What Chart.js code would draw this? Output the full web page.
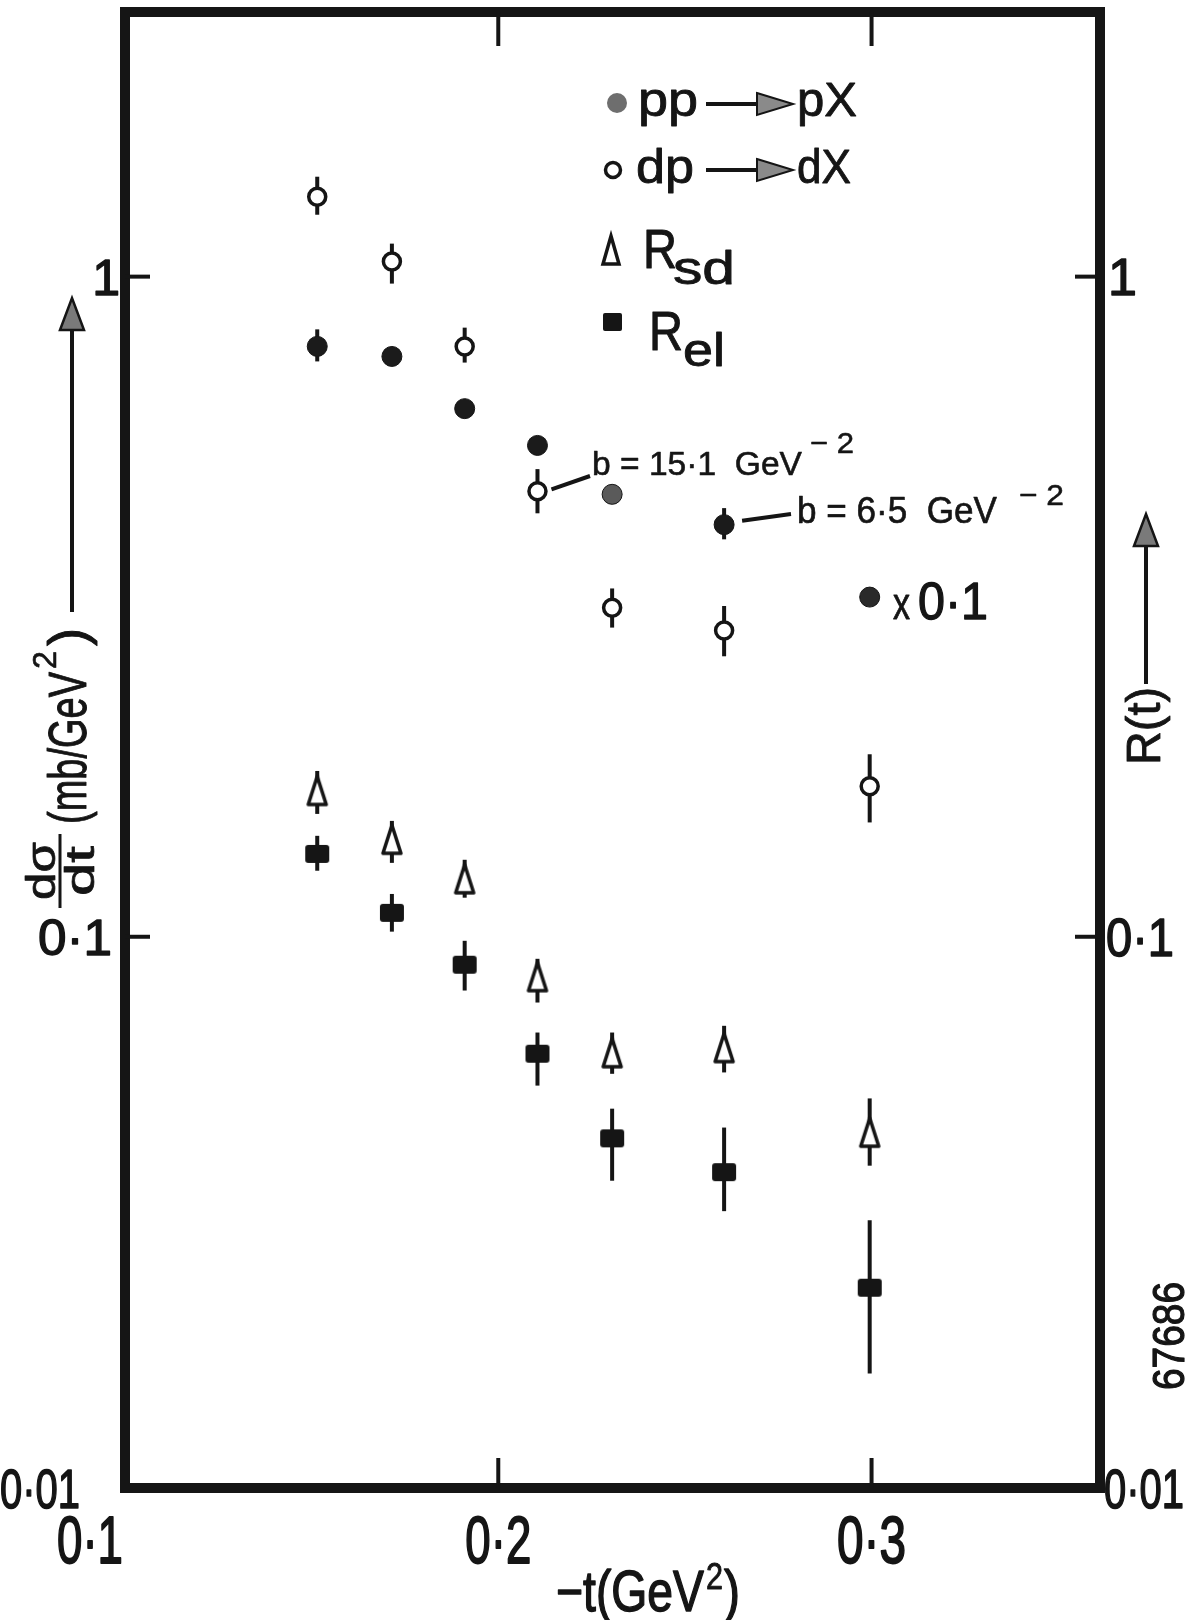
<!DOCTYPE html>
<html>
<head>
<meta charset="utf-8">
<script src="https://cdn.jsdelivr.net/npm/chart.js@4.4.1/dist/chart.umd.min.js"></script>
<style>
  html, body { margin: 0; padding: 0; background: #fff; }
  #wrap { width: 1202px; height: 1620px; position: relative; }
</style>
</head>
<body>
<div id="wrap"><canvas id="myChart"></canvas></div>
<script>
// -t (GeV^2) for every measured bin
const tValues = [0.1515, 0.1715, 0.191, 0.2105, 0.2305, 0.2605, 0.2995];

// pp -> pX  (last point shown x 0.1)
const ppValues = [0.784, 0.757, 0.631, 0.555, 0.468, 0.421, 0.327];
const ppLow = [0.744, null, null, null, null, 0.400, null];
const ppHigh = [0.832, null, null, null, null, 0.446, null];

// dp -> dX
const dpValues = [1.321, 1.054, 0.784, 0.473, 0.315, 0.291, 0.169];
const dpLow = [1.241, 0.976, 0.741, 0.438, 0.294, 0.266, 0.149];
const dpHigh = [1.417, 1.122, 0.837, 0.511, 0.337, 0.317, 0.189];

// R_sd
const rsdValues = [0.166, 0.140, 0.122, 0.0867, 0.0665, 0.0677, 0.0504];
const rsdLow = [0.1535, 0.1294, 0.1146, 0.0795, 0.062, 0.0623, 0.045];
const rsdHigh = [0.1783, 0.1498, 0.1308, 0.0926, 0.0716, 0.0733, 0.0569];

// R_el
const relValues = [0.1335, 0.1087, 0.0907, 0.0665, 0.0495, 0.044, 0.0294];
const relLow = [0.1259, 0.1018, 0.0829, 0.0595, 0.0427, 0.0384, 0.0218];
const relHigh = [0.1422, 0.1161, 0.0986, 0.0716, 0.0549, 0.0514, 0.0372];

// axes
const xMin = 0.1, xMax = 0.3612;
const xTicks = [0.1, 0.2, 0.3];
const xTickLabels = ["0·1", "0·2", "0·3"];
const yMin = 0.01462, yMax = 2.517; // frame edges as drawn in the figure
const yTicks = [yMin, 0.1, 1];
const yTickLabels = ["0·01", "0·1", "1"];

const INK = "#151515";
const FONT = "'Liberation Sans', 'DejaVu Sans', sans-serif";

function toPoints(vals) {
  return vals.map((v, i) => ({ x: tValues[i], y: v }));
}

// tall open triangle and flat square used as markers
function makeTriangle() {
  const c = document.createElement("canvas");
  c.width = 24; c.height = 36;
  const g = c.getContext("2d");
  g.lineWidth = 3.5; g.strokeStyle = INK; g.fillStyle = "#fff"; g.lineJoin = "round";
  g.beginPath(); g.moveTo(12, 3); g.lineTo(21, 31); g.lineTo(3, 31); g.closePath();
  g.fill(); g.stroke();
  return c;
}
function makeSquare() {
  const c = document.createElement("canvas");
  c.width = 26; c.height = 22;
  const g = c.getContext("2d");
  g.fillStyle = INK;
  g.beginPath(); g.roundRect(1, 2, 24, 18, 3); g.fill();
  return c;
}

// text squeezed to the narrow, pen-stroked lettering of the figure
function drawText(ctx, s, x, y, size, w, align, weight) {
  ctx.font = size + "px " + FONT;
  const m = ctx.measureText(s).width;
  const sx = w ? w / m : 1;
  const ww = m * sx;
  let x0 = x;
  if (align === "center") x0 = x - ww / 2;
  if (align === "right") x0 = x - ww;
  ctx.save();
  ctx.translate(x0, y);
  ctx.scale(sx, 1);
  ctx.fillText(s, 0, 0);
  ctx.lineWidth = size / (weight || 55);
  ctx.lineJoin = "round";
  ctx.strokeText(s, 0, 0);
  ctx.restore();
  return ww;
}

function arrowRight(ctx, x1, x2, y) {
  ctx.lineWidth = 4;
  ctx.beginPath(); ctx.moveTo(x1, y); ctx.lineTo(x2 - 30, y); ctx.stroke();
  ctx.fillStyle = "#8a8a8a"; ctx.lineWidth = 2;
  ctx.beginPath(); ctx.moveTo(x2 - 36, y - 11); ctx.lineTo(x2, y); ctx.lineTo(x2 - 36, y + 11); ctx.closePath();
  ctx.fill(); ctx.stroke();
  ctx.fillStyle = INK;
}

function arrowUp(ctx, x, yTail, yTip) {
  ctx.lineWidth = 4;
  ctx.beginPath(); ctx.moveTo(x, yTail); ctx.lineTo(x, yTip + 28); ctx.stroke();
  ctx.fillStyle = "#7a7a7a"; ctx.lineWidth = 2.5;
  ctx.beginPath(); ctx.moveTo(x - 12, yTip + 32); ctx.lineTo(x, yTip); ctx.lineTo(x + 12, yTip + 32); ctx.closePath();
  ctx.fill(); ctx.stroke();
  ctx.fillStyle = INK;
}

const errorBars = {
  id: "errorBars",
  beforeDatasetsDraw(chart) {
    const { ctx, scales: { x, y } } = chart;
    ctx.save();
    ctx.strokeStyle = INK;
    ctx.lineWidth = 4;
    chart.data.datasets.forEach((ds) => {
      ds.data.forEach((p, i) => {
        if (ds.errLow[i] == null) return;
        const px = x.getPixelForValue(p.x);
        ctx.beginPath();
        ctx.moveTo(px, y.getPixelForValue(ds.errLow[i]));
        ctx.lineTo(px, y.getPixelForValue(ds.errHigh[i]));
        ctx.stroke();
      });
    });
    ctx.restore();
  },
};

const decor = {
  id: "decor",
  afterDraw(chart) {
    const { ctx, chartArea: a, scales: { x, y, y2 } } = chart;
    ctx.save();
    ctx.strokeStyle = INK;
    ctx.fillStyle = INK;
    ctx.textBaseline = "alphabetic";

    // thick frame
    ctx.lineWidth = 10;
    ctx.strokeRect(a.left, a.top, a.right - a.left, a.bottom - a.top);

    // inward tick marks
    ctx.lineWidth = 4;
    [0.2, 0.3].forEach((v) => {
      const px = x.getPixelForValue(v);
      ctx.beginPath(); ctx.moveTo(px, a.bottom); ctx.lineTo(px, a.bottom - 30); ctx.stroke();
      ctx.beginPath(); ctx.moveTo(px, a.top); ctx.lineTo(px, a.top + 34); ctx.stroke();
    });
    [1, 0.1].forEach((v) => {
      const py = y.getPixelForValue(v);
      ctx.beginPath(); ctx.moveTo(a.left, py); ctx.lineTo(a.left + 25, py); ctx.stroke();
      ctx.beginPath(); ctx.moveTo(a.right, py); ctx.lineTo(a.right - 25, py); ctx.stroke();
    });

    // tick labels, placed like the hand lettering
    const xLab = [{ dx: -35, w: 66 }, { dx: 0, w: 66 }, { dx: 0, w: 69 }];
    x.ticks.forEach((tk, i) => {
      const s = tk.label || xTickLabels[i];
      drawText(ctx, s, x.getPixelForValue(tk.value) + xLab[i].dx, a.bottom + 75, 66, xLab[i].w, "center", 36);
    });
    const yLab = [{ r: 80, size: 56, w: 80 }, { r: 112, size: 50, w: 74 }, { r: 120, size: 50 }];
    y.ticks.forEach((tk, i) => {
      const s = tk.label || yTickLabels[i];
      const st = yLab[i];
      drawText(ctx, s, st.r, y.getPixelForValue(tk.value) + st.size * 0.36, st.size, st.w, "right", 36);
    });
    const y2Lab = [{ l: 1104, size: 56, w: 80 }, { l: 1106, size: 54, w: 68 }, { l: 1108, size: 52 }];
    y2.ticks.forEach((tk, i) => {
      const s = tk.label || yTickLabels[i];
      const st = y2Lab[i];
      drawText(ctx, s, st.l, y2.getPixelForValue(tk.value) + st.size * 0.36, st.size, st.w, "left", 36);
    });

    // x axis title
    let w = drawText(ctx, "−t(GeV", 556, 1611, 57, 148, "left", 40);
    drawText(ctx, "2", 556 + w + 2, 1589, 36, 17, "left", 40);
    drawText(ctx, ")", 556 + w + 20, 1611, 57, 16, "left", 40);

    // legend
    ctx.fillStyle = "#6e6e6e";
    ctx.beginPath(); ctx.arc(617, 103, 10, 0, Math.PI * 2); ctx.fill();
    ctx.fillStyle = INK;
    drawText(ctx, "pp", 638, 116, 48, 60);
    arrowRight(ctx, 706, 793, 104);
    drawText(ctx, "pX", 797, 116, 48, 60);

    ctx.lineWidth = 3.5;
    ctx.beginPath(); ctx.arc(613, 170, 7.5, 0, Math.PI * 2); ctx.stroke();
    drawText(ctx, "dp", 636, 183, 48, 58);
    arrowRight(ctx, 706, 793, 170);
    drawText(ctx, "dX", 797, 183, 48, 54);

    ctx.lineWidth = 3.5;
    ctx.beginPath(); ctx.moveTo(611, 236); ctx.lineTo(619, 264); ctx.lineTo(603, 264); ctx.closePath(); ctx.stroke();
    drawText(ctx, "R", 643, 268, 56, 34);
    drawText(ctx, "sd", 673, 284, 46, 62);

    ctx.beginPath(); ctx.roundRect(603, 313, 19, 18, 2); ctx.fill();
    drawText(ctx, "R", 649, 350, 56, 34);
    drawText(ctx, "el", 683, 366, 46, 42);

    // slope annotations
    const p4x = x.getPixelForValue(tValues[3]), p4y = y.getPixelForValue(dpValues[3]);
    ctx.lineWidth = 4;
    ctx.beginPath(); ctx.moveTo(p4x + 14, p4y - 2); ctx.lineTo(590, 476); ctx.stroke();
    drawText(ctx, "b = 15·1  GeV", 592, 475, 34, 210);
    drawText(ctx, "− 2", 810, 453, 30, 44);

    const p6x = x.getPixelForValue(tValues[5]), p6y = y.getPixelForValue(ppValues[5]);
    ctx.beginPath(); ctx.moveTo(p6x + 18, p6y - 4); ctx.lineTo(791, 514); ctx.stroke();
    drawText(ctx, "b = 6·5  GeV", 797, 523, 36, 200);
    drawText(ctx, "− 2", 1019, 505, 30, 45);

    drawText(ctx, "x", 893, 619, 44, 17);
    drawText(ctx, "0·1", 918, 619, 52, 70, "left", 40);

    // left axis title: d sigma / dt (mb/GeV^2) with arrow
    ctx.save();
    ctx.translate(60, 910);
    ctx.rotate(-Math.PI / 2);
    ctx.lineWidth = 3;
    ctx.beginPath(); ctx.moveTo(2, 0); ctx.lineTo(76, 0); ctx.stroke();
    drawText(ctx, "dσ", 10, -5, 40, 58);
    drawText(ctx, "dt", 14, 34, 40, 50);
    drawText(ctx, "(mb/GeV", 86, 26, 54, 152);
    drawText(ctx, "2", 241, -4, 34, 18);
    drawText(ctx, ")", 264, 26, 54, 18);
    ctx.restore();
    arrowUp(ctx, 72, 612, 298);

    // right axis title: R(t) with arrow
    ctx.save();
    ctx.translate(1160, 765);
    ctx.rotate(-Math.PI / 2);
    drawText(ctx, "R(t)", 0, 0, 48, 78);
    ctx.restore();
    arrowUp(ctx, 1146, 684, 514);

    // plate number
    ctx.save();
    ctx.translate(1184, 1390);
    ctx.rotate(-Math.PI / 2);
    drawText(ctx, "67686", 0, 0, 44, 108, "left", 36);
    ctx.restore();

    ctx.restore();
  },
};

function fixBox(size) {
  return (s) => {
    if (s.isHorizontal()) s.height = size; else s.width = size;
    s.paddingTop = 0; s.paddingBottom = 0; s.paddingLeft = 0; s.paddingRight = 0;
  };
}

document.addEventListener("DOMContentLoaded", function () {
  const tri = makeTriangle();
  const sq = makeSquare();
  const ctx = document.getElementById("myChart").getContext("2d");

  const hiddenLook = {
    grid: { display: false, drawTicks: false },
    border: { display: false },
  };

  new Chart(ctx, {
    type: "scatter",
    data: {
      datasets: [
        {
          label: "R_el",
          data: toPoints(relValues),
          errLow: relLow, errHigh: relHigh,
          pointStyle: sq,
        },
        {
          label: "R_sd",
          data: toPoints(rsdValues),
          errLow: rsdLow, errHigh: rsdHigh,
          pointStyle: tri,
        },
        {
          label: "pp → pX",
          data: toPoints(ppValues),
          errLow: ppLow, errHigh: ppHigh,
          pointStyle: "circle",
          pointRadius: 10,
          pointBackgroundColor: ["#1b1b1b", "#1b1b1b", "#1b1b1b", "#1b1b1b", "#5a5a5a", "#1b1b1b", "#2a2a2a"],
          pointBorderColor: INK,
          pointBorderWidth: 1,
        },
        {
          label: "dp → dX",
          data: toPoints(dpValues),
          errLow: dpLow, errHigh: dpHigh,
          pointStyle: "circle",
          pointRadius: 8.5,
          pointBackgroundColor: "#fff",
          pointBorderColor: INK,
          pointBorderWidth: 3.5,
        },
      ],
    },
    options: {
      responsive: true,
      maintainAspectRatio: false,
      animation: false,
      devicePixelRatio: 1,
      events: [],
      layout: { padding: { top: 10, left: 0, right: 0, bottom: 0 } },
      scales: {
        x: {
          ...hiddenLook,
          type: "linear",
          position: "bottom",
          min: xMin,
          max: xMax,
          afterBuildTicks: (s) => { s.ticks = xTicks.map((v) => ({ value: v })); },
          afterFit: fixBox(132),
          ticks: { display: false, callback: (v) => xTickLabels[xTicks.indexOf(v)] },
        },
        y: {
          ...hiddenLook,
          type: "logarithmic",
          position: "left",
          min: yMin,
          max: yMax,
          afterBuildTicks: (s) => { s.ticks = yTicks.map((v) => ({ value: v })); },
          afterFit: fixBox(125),
          ticks: { display: false, callback: (v) => yTickLabels[yTicks.indexOf(v)] },
        },
        y2: {
          ...hiddenLook,
          type: "logarithmic",
          position: "right",
          min: yMin,
          max: yMax,
          afterBuildTicks: (s) => { s.ticks = yTicks.map((v) => ({ value: v })); },
          afterFit: fixBox(102),
          ticks: { display: false, callback: (v) => yTickLabels[yTicks.indexOf(v)] },
        },
      },
      plugins: {
        legend: { display: false },
        tooltip: { enabled: false },
      },
    },
    plugins: [errorBars, decor],
  });
});
</script>
</body>
</html>
